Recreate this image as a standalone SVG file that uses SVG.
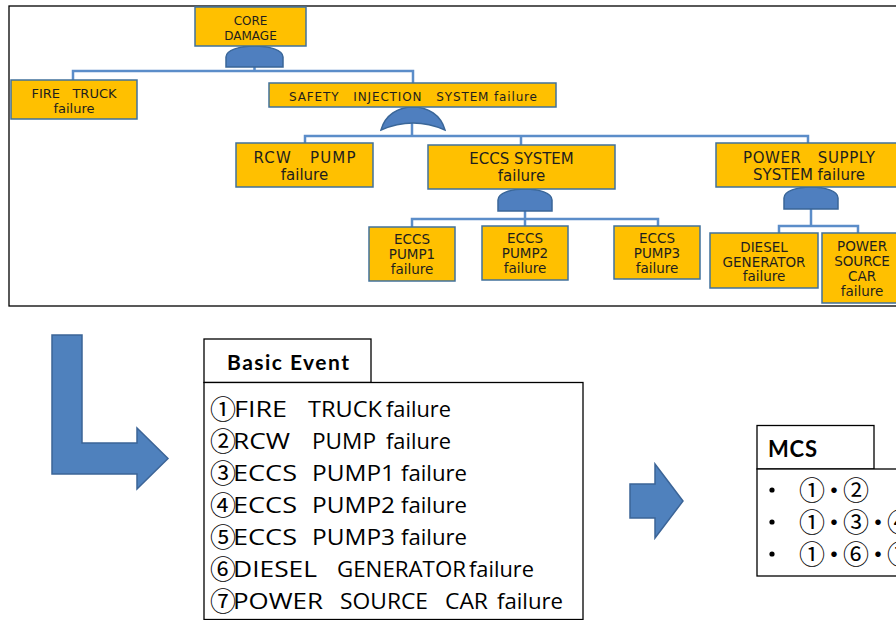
<svg xmlns="http://www.w3.org/2000/svg" width="896" height="620" viewBox="0 0 896 620">
<style>
.box{fill:#FFC000;stroke:#41719C;stroke-width:1.5}
.gate{fill:#4F7FBF;stroke:#3A6698;stroke-width:1.5}
.con{fill:none;stroke:#5B8DC9;stroke-width:2.5}
.t{font-family:"DejaVu Sans","Noto Sans",sans-serif;fill:#1E1E1E;text-anchor:middle;white-space:pre}
.ts{font-size:12px}
.tm{font-size:13px}
.tl{font-size:15px}
.tb{font-size:13.5px}
.big{font-family:"Open Sans","Noto Sans CJK JP",sans-serif;font-size:22px;fill:#000;white-space:pre}
.cd{font-family:"Noto Sans CJK JP",sans-serif;font-size:26px}
.hdr{font-family:Lato,"Noto Sans CJK JP",sans-serif;font-weight:bold;fill:#000}
.frame{fill:#fff;stroke:#000;stroke-width:1.3}
.arrow{fill:#4F81BD;stroke:#3B6497;stroke-width:1.5}
.mc{font-family:"Noto Sans CJK JP",sans-serif;font-size:26px;letter-spacing:-4px;fill:#000;white-space:pre}
</style>
<rect width="896" height="620" fill="#fff"/>
<rect class="frame" x="9" y="6" width="900" height="300"/>

<g id="connectors">
<path class="con" d="M254.5,67 V71 M73,81 V71 H413 V83"/>
<path class="con" d="M412,123 V136 M305,143 V136 H808 V143 M521,136 V145"/>
<path class="con" d="M525,211 V219 M412,227 V219 H658 V226 M525,219 V226"/>
<path class="con" d="M811,209 V226 M779,233 V226 H858 V233"/>
</g>

<g id="gates">
<path class="gate" d="M226,67 V57 C226,50 240,46 254.5,46 C269,46 283,50 283,57 V67 Z"/>
<path class="gate" d="M381,130 C385,115 398,107 413,107 C428,107 441,115 445,130 Q413,116 381,130 Z"/>
<path class="gate" d="M498,211 V200 C498,193 511,189 525,189 C539,189 552,193 552,200 V211 Z"/>
<path class="gate" d="M784,209 V198 C784,191 797,187 811,187 C825,187 838,191 838,198 V209 Z"/>
</g>

<g id="core-damage">
<rect class="box" x="195" y="7" width="111" height="39"/>
<text class="t ts" x="250.5" y="24.5">CORE</text>
<text class="t ts" x="250.5" y="39.5">DAMAGE</text>
</g>
<g id="fire-truck">
<rect class="box" x="11" y="80" width="126" height="39"/>
<text class="t tm" x="74" y="97.5">FIRE   TRUCK</text>
<text class="t tm" x="74" y="112.5">failure</text>
</g>
<g id="safety-injection">
<rect class="box" x="269" y="83" width="287" height="24"/>
<text class="t ts" x="413" y="100.5" textLength="248">SAFETY   INJECTION   SYSTEM failure</text>
</g>
<g id="rcw-pump">
<rect class="box" x="236" y="143" width="137" height="44"/>
<text class="t tl" x="304.5" y="162.5" textLength="102">RCW   PUMP</text>
<text class="t tl" x="304.5" y="179.5">failure</text>
</g>
<g id="eccs-system">
<rect class="box" x="428" y="145" width="187" height="44"/>
<text class="t tl" x="521.5" y="164">ECCS SYSTEM</text>
<text class="t tl" x="521.5" y="181">failure</text>
</g>
<g id="power-supply">
<rect class="box" x="716" y="143" width="186" height="44"/>
<text class="t tl" x="809" y="162.5" textLength="132">POWER   SUPPLY</text>
<text class="t tl" x="809" y="179.5">SYSTEM failure</text>
</g>
<g id="eccs-pump1">
<rect class="box" x="369" y="227" width="86" height="54"/>
<text class="t tb" x="412" y="244">ECCS</text>
<text class="t tb" x="412" y="259">PUMP1</text>
<text class="t tb" x="412" y="273.5">failure</text>
</g>
<g id="eccs-pump2">
<rect class="box" x="482" y="226" width="86" height="54"/>
<text class="t tb" x="525" y="243">ECCS</text>
<text class="t tb" x="525" y="258">PUMP2</text>
<text class="t tb" x="525" y="272.5">failure</text>
</g>
<g id="eccs-pump3">
<rect class="box" x="614" y="226" width="86" height="53"/>
<text class="t tb" x="657" y="243">ECCS</text>
<text class="t tb" x="657" y="258">PUMP3</text>
<text class="t tb" x="657" y="273">failure</text>
</g>
<g id="diesel-generator">
<rect class="box" x="710" y="233" width="108" height="55"/>
<text class="t tb" x="764" y="252">DIESEL</text>
<text class="t tb" x="764" y="266.5">GENERATOR</text>
<text class="t tb" x="764" y="281">failure</text>
</g>
<g id="power-source-car">
<rect class="box" x="822" y="233" width="80" height="70"/>
<text class="t tb" x="862" y="251">POWER</text>
<text class="t tb" x="862" y="266">SOURCE</text>
<text class="t tb" x="862" y="281">CAR</text>
<text class="t tb" x="862" y="296">failure</text>
</g>

<g id="l-arrow">
<path class="arrow" d="M52,335 H82 V443 H137 V428 L168,458.5 L137,489 V474 H52 Z"/>
</g>

<g id="basic-event">
<rect x="204" y="339" width="167" height="43.5" fill="#fff" stroke="#000" stroke-width="1.3"/>
<rect x="204" y="382.5" width="379" height="237" fill="#fff" stroke="#000" stroke-width="1.3"/>
<text class="hdr" x="227" y="370" font-size="21" textLength="122">Basic Event</text>
<text class="big" y="417"><tspan class="cd" x="210" dy="1.5">①</tspan><tspan x="234" dy="-1.5" textLength="53" lengthAdjust="spacingAndGlyphs">FIRE</tspan><tspan x="308" textLength="74" lengthAdjust="spacingAndGlyphs">TRUCK</tspan><tspan x="386" textLength="65" lengthAdjust="spacingAndGlyphs">failure</tspan></text>
<text class="big" y="449"><tspan class="cd" x="210" dy="1.5">②</tspan><tspan x="233" dy="-1.5" textLength="57" lengthAdjust="spacingAndGlyphs">RCW</tspan><tspan x="312" textLength="64" lengthAdjust="spacingAndGlyphs">PUMP</tspan><tspan x="386" textLength="65" lengthAdjust="spacingAndGlyphs">failure</tspan></text>
<text class="big" y="481"><tspan class="cd" x="210" dy="1.5">③</tspan><tspan x="233" dy="-1.5" textLength="64" lengthAdjust="spacingAndGlyphs">ECCS</tspan><tspan x="312" textLength="83" lengthAdjust="spacingAndGlyphs">PUMP1</tspan><tspan x="401" textLength="66" lengthAdjust="spacingAndGlyphs">failure</tspan></text>
<text class="big" y="513"><tspan class="cd" x="210" dy="1.5">④</tspan><tspan x="233" dy="-1.5" textLength="64" lengthAdjust="spacingAndGlyphs">ECCS</tspan><tspan x="312" textLength="83" lengthAdjust="spacingAndGlyphs">PUMP2</tspan><tspan x="401" textLength="66" lengthAdjust="spacingAndGlyphs">failure</tspan></text>
<text class="big" y="545"><tspan class="cd" x="210" dy="1.5">⑤</tspan><tspan x="233" dy="-1.5" textLength="64" lengthAdjust="spacingAndGlyphs">ECCS</tspan><tspan x="312" textLength="83" lengthAdjust="spacingAndGlyphs">PUMP3</tspan><tspan x="401" textLength="66" lengthAdjust="spacingAndGlyphs">failure</tspan></text>
<text class="big" y="577"><tspan class="cd" x="210" dy="1.5">⑥</tspan><tspan x="233" dy="-1.5" textLength="84" lengthAdjust="spacingAndGlyphs">DIESEL</tspan><tspan x="337" textLength="129" lengthAdjust="spacingAndGlyphs">GENERATOR</tspan><tspan x="469" textLength="65" lengthAdjust="spacingAndGlyphs">failure</tspan></text>
<text class="big" y="609"><tspan class="cd" x="210" dy="1.5">⑦</tspan><tspan x="233" dy="-1.5" textLength="90" lengthAdjust="spacingAndGlyphs">POWER</tspan><tspan x="340" textLength="88" lengthAdjust="spacingAndGlyphs">SOURCE</tspan><tspan x="445" textLength="43" lengthAdjust="spacingAndGlyphs">CAR</tspan><tspan x="497" textLength="66" lengthAdjust="spacingAndGlyphs">failure</tspan></text>
</g>

<g id="right-arrow">
<path class="arrow" d="M630,484 H655 V464 L683,501 L655,538 V518 H630 Z"/>
</g>

<g id="mcs">
<rect x="757" y="425.5" width="117" height="43.5" fill="#fff" stroke="#000" stroke-width="1.3"/>
<rect x="757" y="469" width="150" height="107" fill="#fff" stroke="#000" stroke-width="1.3"/>
<text class="hdr" x="768" y="457" font-size="22" textLength="49">MCS</text>
<circle cx="772" cy="490" r="2.6" fill="#000"/>
<circle cx="772" cy="522" r="2.6" fill="#000"/>
<circle cx="772" cy="554" r="2.6" fill="#000"/>
<text class="mc" x="799" y="500">①・②</text>
<text class="mc" x="799" y="532">①・③・④</text>
<text class="mc" x="799" y="564">①・⑥・⑦</text>
</g>
</svg>
